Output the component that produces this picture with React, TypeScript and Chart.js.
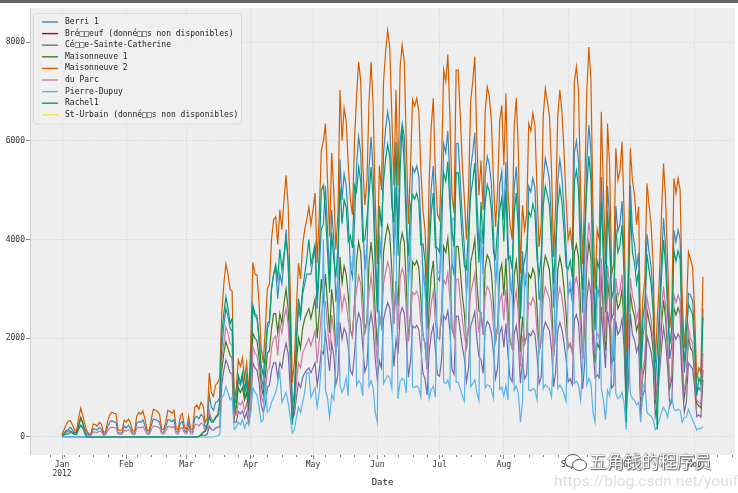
import React, { useEffect, useRef } from "react";
import { Chart, registerables } from "chart.js";

Chart.register(...registerables);

const FONT = '"DejaVu Sans Mono", "Liberation Mono", monospace';

const seriesNames = [
  "Berri 1",
  "Bré□□euf (donné□□s non disponibles)",
  "Cé□□e-Sainte-Catherine",
  "Maisonneuve 1",
  "Maisonneuve 2",
  "du Parc",
  "Pierre-Dupuy",
  "Rachel1",
  "St-Urbain (donné□□s non disponibles)",
];
const seriesColors = ["#348ABD", "#A60628", "#7A68A6", "#467821", "#D55E00", "#CC79A7", "#56B4E9", "#009E73", "#F0E442"];

// daily counts, 2012-01-01 .. 2012-11-05 (one row per week, Sun..Sat)
const berri1 = [
  35, 83, 135, 144, 197, 146, 98,
  95, 244, 397, 273, 157, 75, 32,
  54, 168, 155, 139, 191, 161, 53,
  71, 210, 299, 334, 306, 300, 91,
  80, 87, 219, 186, 238, 174, 84,
  72, 270, 316, 300, 347, 229, 86,
  80, 230, 365, 350, 340, 300, 100,
  95, 195, 350, 340, 310, 350, 115,
  90, 275, 310, 130, 95, 275, 105,
  100, 390, 420, 365, 455, 415, 195,
  250, 850, 600, 540, 700, 720, 800,
  1800, 2250, 2600, 2450, 2200, 2150, 500,
  650, 1150, 1050, 1200, 850, 1100, 600,
  1300, 2600, 2450, 2400, 1950, 1250, 1000,
  1500, 2200, 2300, 3000, 3300, 3400, 2800,
  3300, 3100, 3600, 4200, 3500, 2200, 600,
  900, 1900, 2600, 2400, 2900, 3100, 3300,
  3300, 3300, 3600, 3800, 2600, 3400, 4200,
  4320, 5080, 4160, 3250, 4600, 4000, 2740,
  3240, 5620, 4800, 5330, 5100, 4400, 3460,
  3240, 4320, 5520, 6080, 5760, 4400, 3380,
  3740, 5440, 6080, 5360, 3840, 2800, 3960,
  3600, 5760, 6240, 6590, 6320, 5200, 3670,
  5060, 4080, 6000, 6350, 6080, 4720, 3110,
  3960, 5460, 5360, 5490, 5280, 4320, 3310,
  3020, 2190, 4160, 5040, 5490, 4260, 3240,
  3170, 4030, 5940, 5760, 6200, 5200, 3530,
  3270, 5940, 5950, 5200, 4400, 3840, 2880,
  3600, 5440, 5760, 6160, 4800, 3920, 4030,
  3310, 5280, 5680, 5520, 5120, 4160, 3070,
  3600, 5120, 5380, 4400, 5570, 4000, 3100,
  2880, 5040, 5480, 4640, 2650, 3760, 3020,
  3240, 5080, 4960, 5240, 5040, 4000, 2770,
  3100, 5200, 5650, 5440, 5200, 4320, 2620,
  3380, 5200, 5620, 5280, 4640, 3840, 2880,
  3020, 2740, 5760, 6000, 5600, 4000, 2520,
  3600, 5600, 6320, 5780, 3600, 2400, 3020,
  2880, 5270, 4000, 2800, 5080, 4400, 2380,
  2520, 4680, 4160, 4320, 4780, 3600, 1000,
  2520, 5100, 4160, 3920, 3440, 3730, 1170,
  2020, 2300, 4110, 3760, 3440, 2800, 1080,
  1730, 2560, 3600, 4430, 3840, 2800, 1580,
  1870, 4190, 3950, 4190, 4000, 2240, 1300,
  1800, 2910, 2880, 2760, 2000, 890, 1000,
  940, 2600,
];

const brebeuf: (number | null)[] = [];

const coteSainteCatherine = [
  0, 1, 2, 1, 2, 2, 0,
  0, 2, 3, 2, 1, 0, 0,
  0, 1, 0, 1, 2, 1, 0,
  0, 1, 2, 2, 1, 1, 0,
  0, 0, 1, 2, 1, 1, 0,
  0, 1, 2, 1, 2, 1, 0,
  0, 1, 1, 2, 2, 1, 0,
  0, 1, 2, 1, 1, 2, 0,
  0, 1, 2, 0, 0, 1, 0,
  2, 5, 10, 15, 30, 40, 30,
  60, 220, 150, 140, 180, 200, 200,
  1050, 1350, 1560, 1450, 1300, 1280, 300,
  300, 520, 470, 530, 380, 500, 270,
  600, 1500, 1400, 1350, 1100, 650, 500,
  650, 1000, 1050, 1350, 1500, 1500, 1200,
  1500, 1400, 1700, 1900, 1700, 1000, 380,
  450, 800, 1100, 1000, 1200, 1300, 1350,
  1400, 1300, 1400, 1500, 1050, 1350, 1750,
  1680, 2100, 1720, 1340, 1900, 1650, 1060,
  1260, 2320, 1980, 2200, 2100, 1820, 1340,
  1260, 1680, 2280, 2510, 2380, 1820, 1320,
  1460, 2240, 2510, 2210, 1580, 1160, 1540,
  1400, 2380, 2570, 2720, 2610, 2150, 1430,
  1970, 1680, 2480, 2620, 2510, 1950, 1210,
  1540, 2250, 2210, 2260, 2180, 1780, 1290,
  1180, 850, 1720, 2080, 2260, 1760, 1260,
  1230, 1570, 2450, 2380, 2560, 2150, 1370,
  1270, 2450, 2450, 2150, 1820, 1580, 1120,
  1400, 2240, 2380, 2540, 1980, 1620, 1570,
  1290, 2180, 2340, 2280, 2110, 1720, 1190,
  1400, 2110, 2220, 1820, 2300, 1650, 1200,
  1120, 2080, 2260, 1910, 1090, 1550, 1180,
  1260, 2100, 2050, 2160, 2080, 1650, 1080,
  1200, 2150, 2330, 2240, 2150, 1780, 1020,
  1320, 2150, 2320, 2180, 1910, 1580, 1120,
  1180, 1060, 2380, 2480, 2310, 1650, 980,
  1500, 2800, 3160, 2890, 1800, 1200, 1260,
  1200, 2640, 2000, 1400, 2540, 2200, 990,
  1050, 2340, 2080, 2160, 2390, 1800, 500,
  1050, 2500, 2080, 1960, 1720, 1870, 460,
  840, 960, 2050, 1880, 1720, 1400, 420,
  670, 1280, 1800, 2220, 1920, 1400, 620,
  730, 2090, 1980, 2090, 2000, 1120, 500,
  700, 1500, 1440, 1380, 1000, 410, 450,
  400, 1160,
];

const maisonneuve1 = [
  38, 68, 104, 116, 124, 98, 80,
  108, 200, 390, 290, 100, 0, 0,
  0, 0, 0, 0, 0, 0, 0,
  0, 0, 0, 0, 0, 0, 0,
  0, 0, 0, 0, 0, 0, 0,
  0, 0, 0, 0, 0, 0, 0,
  0, 0, 0, 0, 0, 0, 0,
  0, 0, 0, 0, 0, 0, 0,
  0, 0, 0, 0, 0, 0, 0,
  0, 0, 0, 10, 50, 100, 120,
  200, 480, 350, 320, 400, 420, 500,
  1350, 1700, 1930, 1800, 1650, 1600, 380,
  600, 1000, 900, 1000, 750, 900, 500,
  1100, 2100, 2000, 1950, 1600, 1050, 850,
  1200, 1700, 1750, 2200, 2500, 2500, 2100,
  2500, 2300, 2700, 3000, 2600, 1700, 450,
  650, 1500, 2000, 1800, 2200, 2400, 2500,
  2600, 2400, 2600, 2800, 2000, 2500, 3200,
  2700, 3300, 2700, 2110, 2990, 2600, 1710,
  2030, 3650, 3120, 3460, 3300, 2860, 2160,
  2030, 2700, 3590, 3950, 3740, 2860, 2120,
  2340, 3540, 3950, 3480, 2500, 1820, 2480,
  2250, 3740, 4060, 4290, 4110, 3380, 2300,
  3160, 2650, 3900, 4130, 3950, 3070, 1940,
  2480, 3550, 3480, 3570, 3430, 2810, 2070,
  1890, 1370, 2700, 3280, 3570, 2770, 2030,
  1980, 2520, 3860, 3740, 4030, 3380, 2210,
  2040, 3860, 3860, 3380, 2860, 2500, 1800,
  2250, 3540, 3740, 4010, 3120, 2550, 2520,
  2070, 3430, 3690, 3590, 3330, 2700, 1920,
  2250, 3330, 3500, 2860, 3620, 2600, 1940,
  1800, 3280, 3560, 3020, 1720, 2440, 1890,
  2030, 3300, 3220, 3410, 3280, 2600, 1730,
  1940, 3380, 3670, 3540, 3380, 2810, 1640,
  2120, 3380, 3650, 3430, 3020, 2500, 1800,
  1890, 1710, 3740, 3900, 3640, 2600, 1580,
  2250, 3500, 3950, 3610, 2250, 1500, 1890,
  1800, 3290, 2500, 1750, 3180, 2750, 1490,
  1580, 2920, 2600, 2700, 2990, 2250, 700,
  1580, 2920, 2600, 2450, 2150, 2330, 730,
  1260, 1440, 2570, 2350, 2150, 1750, 680,
  1080, 1600, 2250, 2770, 2400, 1750, 990,
  1170, 2620, 2470, 2620, 2500, 1400, 810,
  1130, 2030, 1800, 1730, 1250, 680, 630,
  590, 1360,
];

const maisonneuve2 = [
  51, 153, 248, 318, 330, 245, 140,
  130, 380, 585, 430, 260, 120, 60,
  80, 260, 250, 220, 300, 260, 90,
  110, 320, 450, 500, 480, 470, 150,
  130, 140, 340, 300, 360, 290, 130,
  110, 420, 500, 460, 530, 350, 140,
  120, 350, 560, 540, 520, 460, 160,
  150, 300, 540, 520, 480, 540, 180,
  140, 420, 480, 200, 150, 420, 160,
  150, 600, 650, 560, 700, 640, 300,
  380, 1300, 900, 820, 1050, 1100, 1200,
  2500, 3100, 3500, 3300, 3000, 2950, 700,
  1000, 1560, 1430, 1600, 1180, 1500, 900,
  1900, 3540, 3300, 3280, 2700, 1800, 1500,
  2200, 3000, 3100, 4000, 4400, 4460, 3900,
  4600, 4200, 4800, 5300, 4700, 3000, 1100,
  1500, 2600, 3520, 3200, 3900, 4200, 4400,
  4660, 4300, 4600, 4940, 3520, 4500, 5800,
  6000, 6350, 5200, 4060, 5750, 5000, 3800,
  4500, 7030, 6000, 6660, 6400, 5500, 4800,
  4500, 6000, 6900, 7600, 7200, 5500, 4700,
  5200, 6800, 7600, 6700, 4800, 3500, 5500,
  5000, 7200, 7800, 8240, 7900, 6500, 5100,
  7030, 5100, 7500, 7940, 7600, 5900, 4320,
  5500, 6830, 6700, 6860, 6600, 5400, 4600,
  4200, 3040, 5200, 6300, 6860, 5330, 4500,
  4400, 5600, 7430, 7200, 7750, 6500, 4900,
  4540, 7430, 7430, 6500, 5500, 4800, 4000,
  5000, 6800, 7200, 7700, 6000, 4900, 5600,
  4600, 6600, 7090, 6900, 6400, 5200, 4260,
  5000, 6400, 6720, 5500, 6960, 5000, 4300,
  4000, 6300, 6860, 5800, 3310, 4700, 4200,
  4500, 6350, 6200, 6560, 6300, 5000, 3850,
  4300, 6500, 7060, 6800, 6500, 5400, 3650,
  4700, 6500, 7030, 6600, 5800, 4800, 4000,
  4200, 3800, 7200, 7500, 7000, 5000, 3500,
  5000, 7000, 7900, 7230, 4500, 3000, 4200,
  4000, 6590, 5000, 3500, 6350, 5500, 3300,
  3500, 5850, 5200, 5400, 5980, 4500, 1700,
  3500, 5850, 5200, 4900, 4300, 4670, 1630,
  2800, 3200, 5140, 4700, 4300, 3500, 1500,
  2400, 3200, 4500, 5540, 4800, 3500, 2200,
  2600, 5240, 4940, 5240, 5000, 2800, 1800,
  2500, 3750, 3600, 3450, 2500, 1160, 1400,
  1300, 3240,
];

const duParc = [
  26, 53, 89, 111, 97, 86, 53,
  45, 150, 230, 180, 110, 50, 25,
  30, 105, 100, 90, 120, 105, 35,
  45, 130, 180, 200, 190, 190, 60,
  50, 55, 135, 120, 145, 115, 50,
  45, 170, 200, 185, 210, 140, 55,
  50, 140, 225, 215, 210, 185, 65,
  60, 120, 215, 210, 190, 215, 70,
  55, 170, 190, 80, 60, 170, 65,
  60, 240, 260, 225, 280, 255, 120,
  150, 520, 360, 330, 420, 440, 480,
  1550, 1900, 2230, 2100, 1900, 1850, 430,
  450, 700, 650, 720, 530, 680, 400,
  800, 1830, 1700, 1650, 1350, 850, 700,
  900, 1350, 1400, 1800, 2000, 2050, 1650,
  2300, 2100, 2400, 2600, 2300, 1500, 400,
  550, 1100, 1500, 1400, 1700, 1800, 1900,
  2000, 1850, 2000, 2150, 1500, 1950, 2500,
  2700, 2730, 2240, 1740, 2470, 2150, 1710,
  2030, 3020, 2580, 2860, 2700, 2370, 2160,
  2030, 2700, 2970, 3270, 3100, 2370, 2120,
  2340, 2920, 3270, 2880, 2060, 1500, 2480,
  2250, 3100, 3350, 3540, 3400, 2800, 2300,
  3160, 2190, 3230, 3410, 3270, 2540, 1940,
  2480, 2930, 2880, 2950, 2840, 2320, 2070,
  1890, 1370, 2240, 2710, 2950, 2290, 2030,
  1980, 2520, 3190, 3100, 3330, 2800, 2210,
  2040, 3190, 3200, 2800, 2370, 2060, 1800,
  2250, 2920, 3100, 3310, 2580, 2110, 2520,
  2070, 2840, 3050, 2970, 2750, 2240, 1920,
  2250, 2750, 2890, 2370, 2990, 2150, 1940,
  1800, 2710, 2950, 2490, 1430, 2020, 1890,
  2030, 2730, 2670, 2820, 2710, 2150, 1730,
  1940, 2800, 3040, 2920, 2800, 2320, 1640,
  2120, 2800, 3020, 2840, 2490, 2060, 1800,
  1890, 1710, 3100, 3230, 3010, 2150, 1580,
  2500, 3850, 4350, 3980, 2480, 1650, 2100,
  2000, 3620, 2750, 1930, 3490, 3030, 1650,
  1750, 3220, 2860, 2970, 3290, 2480, 800,
  1750, 3220, 2860, 2700, 2370, 2570, 810,
  1400, 1600, 2830, 2590, 2370, 1930, 750,
  1200, 1760, 2480, 3050, 2640, 1930, 1100,
  1300, 2880, 2720, 2880, 2750, 1540, 900,
  1250, 2230, 2000, 1900, 1380, 750, 700,
  650, 1700,
];

const pierreDupuy = [
  10, 6, 3, 8, 13, 9, 6,
  8, 5, 7, 4, 2, 0, 0,
  0, 0, 0, 0, 0, 0, 0,
  0, 0, 0, 0, 0, 0, 0,
  0, 0, 0, 0, 0, 0, 0,
  0, 0, 0, 0, 0, 0, 0,
  0, 0, 0, 0, 0, 0, 0,
  0, 0, 0, 0, 0, 0, 0,
  0, 0, 0, 0, 0, 0, 0,
  0, 0, 0, 0, 0, 0, 0,
  0, 0, 0, 0, 10, 20, 50,
  800, 850, 1020, 900, 750, 800, 150,
  200, 300, 250, 350, 180, 300, 250,
  500, 1000, 900, 850, 600, 300, 350,
  1200, 500, 550, 700, 800, 900, 1100,
  1300, 700, 800, 900, 700, 400, 80,
  150, 400, 600, 500, 700, 900, 1300,
  1300, 800, 900, 1000, 600, 900, 1500,
  4000, 950, 780, 400, 860, 750, 1500,
  3300, 1050, 900, 1000, 1200, 830, 3600,
  3400, 3900, 1040, 1140, 1080, 830, 3500,
  3900, 1020, 1140, 1000, 500, 300, 4100,
  3750, 1080, 1170, 1240, 1190, 980, 3800,
  4400, 770, 1130, 1190, 1140, 890, 3240,
  4100, 1020, 1000, 1030, 990, 810, 3450,
  3150, 1500, 780, 950, 1030, 800, 3380,
  3300, 4200, 1110, 1080, 1160, 980, 4390,
  4440, 1110, 1110, 980, 830, 720, 3000,
  3750, 1020, 1080, 1160, 900, 740, 4200,
  3450, 990, 1060, 1040, 960, 780, 3190,
  3750, 960, 1010, 830, 1040, 750, 3230,
  3000, 950, 1030, 870, 300, 700, 3150,
  3380, 950, 930, 980, 950, 750, 2000,
  3230, 980, 1060, 1020, 980, 810, 1800,
  3530, 980, 1050, 990, 870, 720, 3000,
  3150, 2850, 1080, 1130, 1050, 750, 1400,
  3500, 1050, 1190, 1080, 500, 300, 3000,
  2800, 990, 750, 350, 950, 830, 1300,
  2400, 880, 780, 810, 900, 680, 150,
  1800, 880, 780, 740, 650, 700, 300,
  1000, 1100, 500, 450, 420, 350, 150,
  200, 350, 500, 600, 520, 400, 700,
  800, 560, 530, 560, 540, 300, 400,
  400, 560, 450, 350, 250, 140, 180,
  170, 210,
];

const rachel1 = [
  16, 43, 58, 61, 95, 75, 54,
  63, 173, 241, 194, 63, 0, 0,
  0, 0, 0, 0, 0, 0, 0,
  0, 0, 0, 0, 0, 0, 0,
  0, 0, 0, 0, 0, 0, 0,
  0, 0, 0, 0, 0, 0, 0,
  0, 0, 0, 0, 0, 0, 0,
  0, 0, 0, 0, 0, 0, 0,
  0, 0, 0, 0, 0, 0, 0,
  0, 0, 0, 10, 40, 90, 110,
  250, 400, 300, 300, 380, 450, 700,
  2100, 2500, 2840, 2600, 2300, 2400, 600,
  800, 1250, 1100, 1300, 950, 1250, 750,
  1500, 2670, 2500, 2450, 2000, 1450, 1250,
  1700, 2300, 2350, 3000, 3300, 3500, 3200,
  3800, 3400, 3700, 4000, 3600, 2500, 250,
  700, 2000, 2800, 2500, 3000, 3300, 3600,
  4000, 3500, 3700, 3900, 2800, 3700, 5000,
  5100, 4570, 3740, 2920, 4140, 3600, 3230,
  3830, 5060, 4320, 4800, 4650, 3960, 4080,
  3830, 5100, 4970, 5470, 5180, 3960, 4000,
  4420, 4900, 5470, 4820, 3460, 2520, 4680,
  4250, 5180, 5620, 5930, 5690, 4680, 4340,
  5970, 3670, 5400, 6300, 5470, 4250, 3670,
  4680, 4910, 4820, 4940, 4750, 3890, 3910,
  3570, 2590, 3740, 4540, 4940, 3840, 3830,
  3740, 4760, 5350, 5180, 5580, 4680, 4170,
  3860, 5350, 5350, 4680, 3960, 3460, 3400,
  4250, 4900, 5180, 5550, 4320, 3530, 4760,
  3910, 4750, 5110, 4970, 4610, 3740, 3620,
  4250, 4610, 4840, 3960, 5010, 3600, 3660,
  3400, 4540, 4940, 4180, 2390, 3380, 3570,
  3830, 4570, 4460, 4720, 4540, 3600, 3270,
  3660, 4680, 5080, 4900, 4680, 3890, 3100,
  4000, 4680, 5060, 4750, 4180, 3460, 3400,
  3570, 3230, 5180, 5400, 5040, 3600, 2980,
  4250, 5040, 5690, 5200, 3240, 2160, 3570,
  3400, 4740, 3600, 2520, 4570, 3960, 2810,
  2980, 4210, 3740, 3890, 4300, 3240, 300,
  2980, 4600, 3740, 3530, 3100, 3360, 1380,
  2380, 2720, 3700, 3380, 3100, 2520, 1080,
  150, 2300, 3240, 3990, 3460, 2520, 1870,
  2210, 3770, 3560, 3770, 3600, 2020, 1530,
  2130, 2700, 2590, 2480, 1800, 830, 1190,
  1100, 2436,
];

const stUrbain: (number | null)[] = [];

// axis ticks
const monthTickDays = [0, 31, 60, 91, 121, 152, 182, 213, 244, 274, 305];
const monthTickLabels: (string | string[])[] = [["Jan", "2012"], "Feb", "Mar", "Apr", "May", "Jun", "Jul", "Aug", "Sep", "Oct", "Nov"];
const yTickValues = [0, 2000, 4000, 6000, 8000];
const mondayTickDays = [
  -6, 1, 8, 15, 22, 29, 36, 43, 50, 57, 64, 71, 78, 85, 92, 99, 106, 113, 120, 127, 134, 141, 148, 155,
  162, 169, 176, 183, 190, 197, 204, 211, 218, 225, 232, 239, 246, 253, 260, 267, 274, 281, 288, 295, 302, 309, 316, 323,
];

const allSeries = [berri1, brebeuf, coteSainteCatherine, maisonneuve1, maisonneuve2, duParc, pierreDupuy, rachel1, stUrbain];

const bgPlugin = {
  id: "bgArea",
  beforeDraw(chart: any) {
    const { ctx, chartArea: a } = chart;
    ctx.save();
    ctx.fillStyle = "#eeeeee";
    ctx.fillRect(a.left, a.top, a.right - a.left, a.bottom - a.top);
    ctx.strokeStyle = "#c6c6c6";
    ctx.lineWidth = 0.8;
    ctx.beginPath();
    ctx.moveTo(a.left + 0.5, a.top);
    ctx.lineTo(a.left + 0.5, a.bottom);
    ctx.stroke();
    ctx.restore();
  },
};

const minorTickPlugin = {
  id: "minorTicks",
  afterDraw(chart: any) {
    const { ctx, chartArea: a } = chart;
    const xs = chart.scales.x;
    ctx.save();
    ctx.strokeStyle = "#555555";
    ctx.lineWidth = 0.8;
    mondayTickDays.forEach((d) => {
      if (monthTickDays.includes(d)) return;
      const px = Math.round(xs.getPixelForValue(d)) + 0.5;
      if (px < a.left || px > a.right) return;
      ctx.beginPath();
      ctx.moveTo(px, a.bottom);
      ctx.lineTo(px, a.bottom + 2);
      ctx.stroke();
    });
    ctx.restore();
  },
};

const legendPlugin = {
  id: "insideLegend",
  afterDatasetsDraw(chart: any) {
    const { ctx, chartArea: a } = chart;
    const x0 = a.left + 3;
    const y0 = a.top + 5;
    const rowH = 11.6;
    const w = 208;
    const h = rowH * seriesNames.length + 6;
    ctx.save();
    ctx.fillStyle = "rgba(240,240,240,0.8)";
    ctx.strokeStyle = "rgba(205,205,205,0.8)";
    ctx.lineWidth = 0.8;
    ctx.beginPath();
    if (ctx.roundRect) ctx.roundRect(x0 + 0.5, y0 + 0.5, w, h, 3);
    else ctx.rect(x0 + 0.5, y0 + 0.5, w, h);
    ctx.fill();
    ctx.stroke();
    ctx.font = `8px ${FONT}`;
    ctx.textBaseline = "middle";
    seriesNames.forEach((name, i) => {
      const cy = y0 + 9 + i * rowH;
      ctx.strokeStyle = seriesColors[i];
      ctx.lineWidth = 1.4;
      ctx.beginPath();
      ctx.moveTo(x0 + 9, cy);
      ctx.lineTo(x0 + 25, cy);
      ctx.stroke();
      ctx.fillStyle = "#222222";
      ctx.fillText(name, x0 + 32, cy);
    });
    ctx.restore();
  },
};

export default function App() {
  const canvasRef = useRef<HTMLCanvasElement | null>(null);

  useEffect(() => {
    if (!canvasRef.current) return;
    const days = maisonneuve2.map((_, i) => i);
    const chart = new Chart(canvasRef.current, {
      type: "line",
      data: {
        labels: days,
        datasets: allSeries.map((s, i) => ({
          label: seriesNames[i],
          data: s,
          borderColor: seriesColors[i],
          backgroundColor: seriesColors[i],
          borderWidth: 1.2,
          pointRadius: 0,
          tension: 0,
          fill: false,
          order: allSeries.length - i,
        })),
      },
      options: {
        responsive: false,
        animation: false,
        events: [],
        layout: { padding: { top: 8, right: 3, left: 0, bottom: 0 } },
        plugins: { legend: { display: false }, tooltip: { enabled: false } },
        scales: {
          x: {
            type: "linear",
            min: -15.45,
            max: 324.45,
            afterBuildTicks: (s: any) => {
              s.ticks = monthTickDays.map((v) => ({ value: v }));
            },
            afterFit: (s: any) => {
              s.height = 38;
            },
            ticks: {
              autoSkip: false,
              maxRotation: 0,
              padding: 1,
              color: "#333333",
              font: { family: FONT, size: 8 },
              callback: (v: any) => {
                const idx = monthTickDays.indexOf(Number(v));
                return idx >= 0 ? monthTickLabels[idx] : "";
              },
            },
            grid: { color: "#d2d2d2", lineWidth: 0.7, tickLength: 4, tickColor: "#555555", drawTicks: true },
            border: { display: false, dash: [1.5, 1.5] },
            title: {
              display: true,
              text: "Date",
              color: "#222222",
              font: { family: FONT, size: 9 },
              padding: { top: 2, bottom: 5 },
            },
          },
          y: {
            type: "linear",
            min: -365,
            max: 8690,
            afterBuildTicks: (s: any) => {
              s.ticks = yTickValues.map((v) => ({ value: v }));
            },
            afterFit: (s: any) => {
              s.width = 30;
            },
            ticks: {
              padding: 1,
              color: "#333333",
              font: { family: FONT, size: 8 },
              callback: (v: any) => String(v),
            },
            grid: { color: "#d2d2d2", lineWidth: 0.7, tickLength: 4, tickColor: "#555555", drawTicks: true },
            border: { display: false, dash: [1.5, 1.5] },
          },
        },
      },
      plugins: [bgPlugin, minorTickPlugin, legendPlugin],
    } as any);
    return () => chart.destroy();
  }, []);

  return (
    <div style={{ position: "fixed", left: 0, top: 0, width: 738, height: 493, background: "#ffffff", overflow: "hidden" }}>
      <canvas ref={canvasRef} width={738} height={493} style={{ display: "block" }} />
      <div style={{ position: "absolute", left: 0, top: 0, width: 738, height: 3, background: "#666666" }} />
      <div style={{ position: "absolute", left: 552, top: 450, width: 186, height: 43, pointerEvents: "none" }}>
        <svg width="24" height="20" viewBox="0 0 24 20" style={{ position: "absolute", left: 12, top: 3 }}>
          <ellipse cx="9" cy="8" rx="8" ry="6.5" fill="rgba(255,255,255,0.9)" stroke="#555" strokeWidth="1" />
          <ellipse cx="15.5" cy="12" rx="7" ry="5.5" fill="rgba(255,255,255,0.9)" stroke="#555" strokeWidth="1" />
        </svg>
        <span
          style={{
            position: "absolute",
            left: 37,
            top: 1,
            fontFamily: '"Noto Sans CJK SC", sans-serif',
            fontSize: 17.5,
            lineHeight: "20px",
            color: "#ffffff",
            whiteSpace: "nowrap",
            textShadow: "0 0 1px #444, 0 0 1px #444, 1px 1px 1px #666",
          }}
        >
          五角钱的程序员
        </span>
        <span
          style={{
            position: "absolute",
            left: 2,
            top: 22,
            fontFamily: "Roboto, sans-serif",
            fontSize: 15.5,
            lineHeight: "18px",
            color: "rgba(215,215,215,0.85)",
            whiteSpace: "nowrap",
          }}
        >
          https://blog.csdn.net/youif
        </span>
      </div>
    </div>
  );
}
